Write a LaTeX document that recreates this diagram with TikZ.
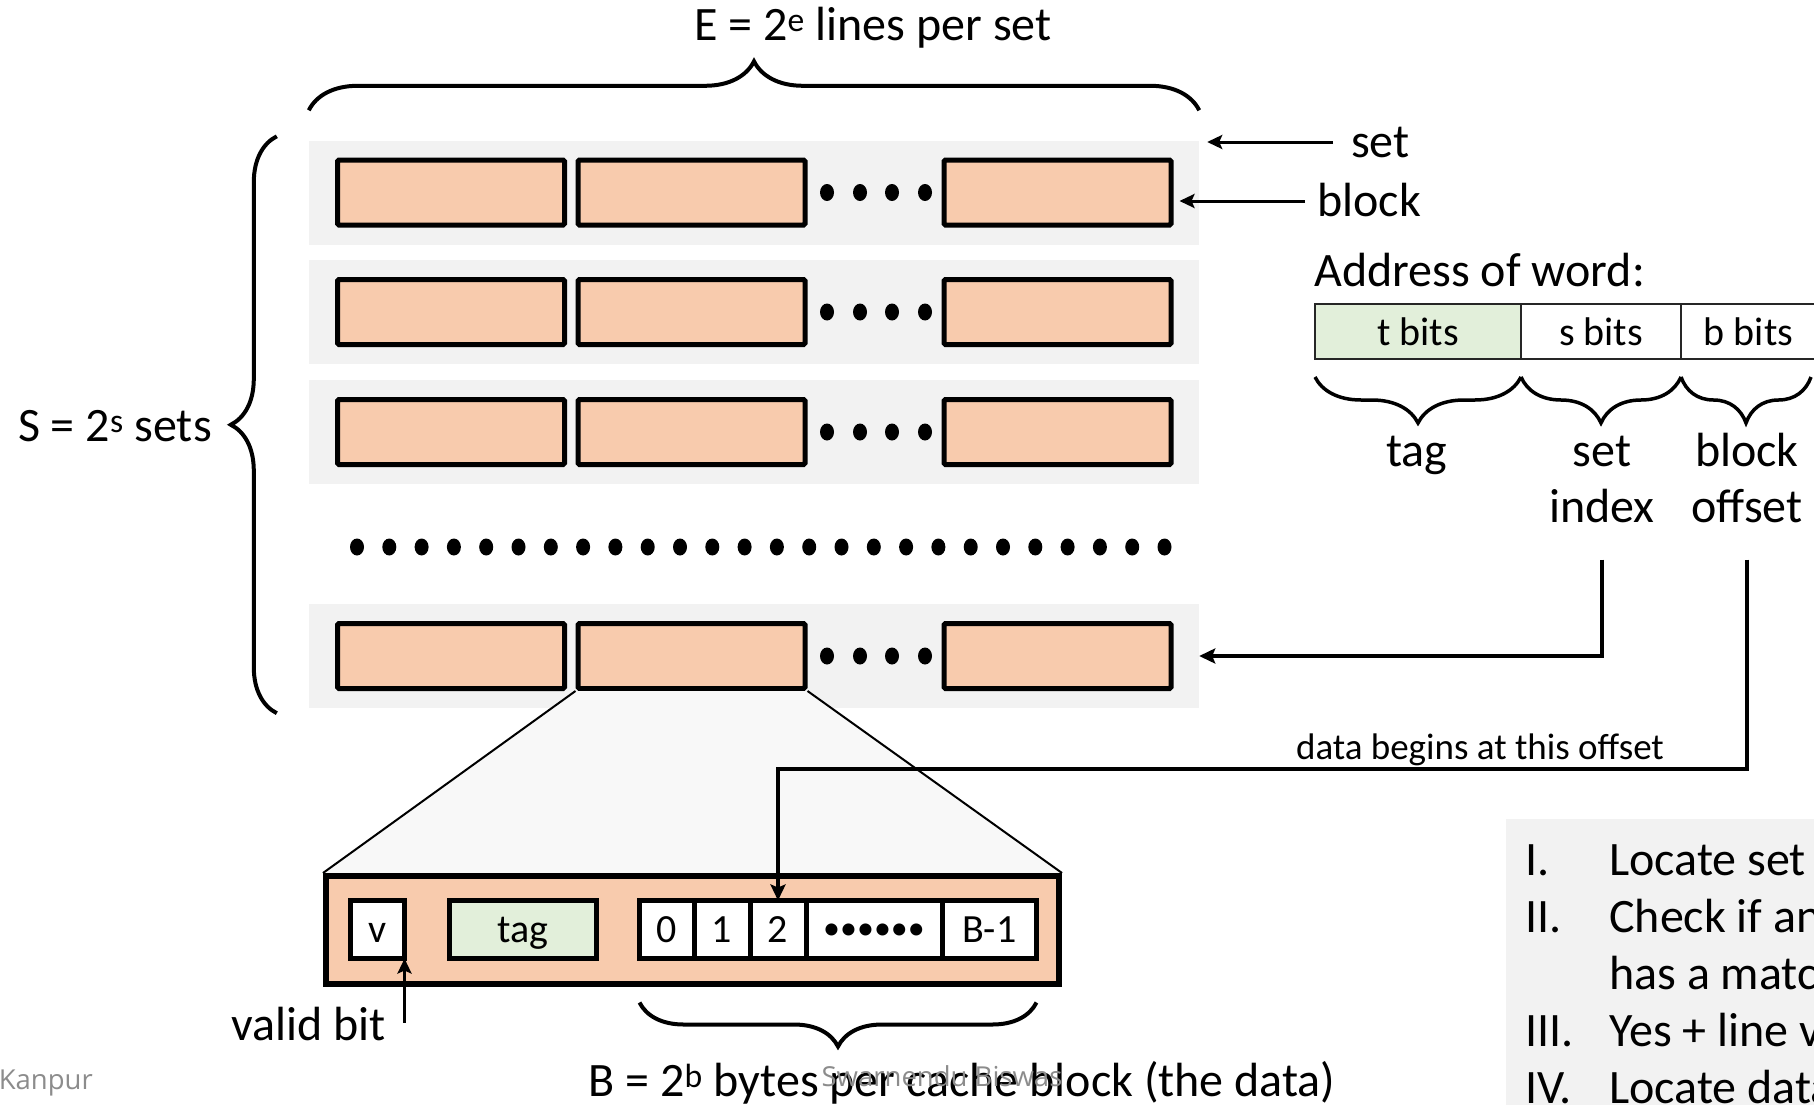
\documentclass[tikz,border=0pt]{standalone}
\usepackage{fontspec}
\setmainfont{Carlito}
\newfontfamily\footfont{Open Sans}
\usetikzlibrary{arrows.meta,positioning,decorations.pathreplacing}

\definecolor{peach}{HTML}{F8CBAD}
\definecolor{tagreen}{HTML}{E2EFDA}
\definecolor{setgray}{HTML}{F2F2F2}
\definecolor{zoomgray}{HTML}{F8F8F8}
\definecolor{footgray}{HTML}{8C8C8C}

\tikzset{
  lbl/.style={inner sep=0pt, text height=40pt, text depth=9pt},
  setbg/.style={fill=setgray, inner sep=0pt, minimum width=890pt, minimum height=104pt},
  cblock/.style={draw, line width=5pt, fill=peach, rounded corners=1.5pt, inner sep=0pt,
    minimum width=227pt, minimum height=65pt},
  cell/.style={draw, line width=5pt, fill=white, inner sep=0pt, outer sep=0pt,
    minimum height=58pt, text height=34pt, text depth=8pt, font=\fontsize{40pt}{48pt}\selectfont},
  field/.style={draw=black!85, line width=2pt, fill=white, inner sep=0pt, outer sep=0pt,
    minimum height=55pt, font=\fontsize{40pt}{48pt}\selectfont},
  arr/.style={line width=4pt, -{Stealth[length=16pt,width=15pt,inset=3pt]}},
  thinarr/.style={line width=3pt, -{Stealth[length=15pt,width=14pt,inset=3pt]}},
  bigbrace/.style={decorate, line width=4pt, decoration={brace, amplitude=#1}},
}

\begin{document}
\begin{tikzpicture}[x=1pt,y=-1pt,font=\fontsize{48pt}{58pt}\selectfont]
\clip (0,0) rectangle (1814,1105);

% the sets, each with E lines
\foreach \n/\y in {1/192.5, 2/312, 3/432, 4/656} {
  \node[setbg] (set\n) at (754,\y) {};
  \node[cblock] (blk\n-1) at (451,\y) {};
  \node[cblock] (blk\n-2) at (691.5,\y) {};
  \node[cblock] (blk\n-3) at (1057.5,\y) {};
  \foreach \d in {827,860,892,925}
    \fill (\d,\y) ellipse (7pt and 8.5pt);
}
\foreach \i in {0,...,25}
  \fill (357+32.3*\i,547) ellipse (7pt and 8.5pt);

% braces round the sets
\draw[bigbrace=49pt] ([yshift=30pt]set1.north west) -- ([yshift=30pt]set1.north east);
\node[lbl] (perset) at (873,25) {E = 2\textsuperscript{e} lines per set};
\draw[bigbrace=46pt] ([xshift=-32pt,yshift=-5pt]set4.south west) -- ([xshift=-32pt,yshift=4pt]set1.north west);
\node[lbl, anchor=east] (numsets) at (212,426) {S = 2\textsuperscript{s} sets};

\node[lbl, anchor=west] (settxt) at (1351,142) {set};
\node[lbl, anchor=west] (blktxt) at (1317,201) {block};
\draw[thinarr, shorten <=18pt, shorten >=8pt] (settxt.west) -- (settxt.west -| set1.east);
\draw[thinarr, shorten <=12pt, shorten >=6pt] (blktxt.west) -- (blktxt.west -| blk1-3.east);

% address split into fields
\node[lbl, anchor=west] (addr) at (1314,271) {Address of word:};
\node[field, fill=tagreen, minimum width=206pt] (tbits) at (1418,331.5) {t bits};
\node[field, minimum width=160pt, right=0pt of tbits] (sbits) {s bits};
\node[field, minimum width=135pt, right=0pt of sbits] (bbits) {b bits};
\draw[bigbrace=46pt, line width=3.5pt] ([yshift=-18pt]tbits.south east) -- ([yshift=-18pt]tbits.south west);
\draw[bigbrace=46pt, line width=3.5pt] ([yshift=-18pt]sbits.south east) -- ([yshift=-18pt]sbits.south west);
\draw[bigbrace=46pt, line width=3.5pt] ([xshift=-5pt,yshift=-18pt]bbits.south east) -- ([yshift=-18pt]bbits.south west);
\node[lbl] (taglbl) at (1417,451) {tag};
\node[lbl] (setlbl) at (1602,451) {set};
\node[lbl] (idxlbl) at (1602,507) {index};
\node[lbl] (blklbl) at (1747,451) {block};
\node[lbl] (offlbl) at (1747,507) {offset};

% one line, zoomed in
\fill[zoomgray] (blk4-2.south west) -- (blk4-2.south east) -- (1062,873) -- (323,873) -- cycle;
\draw[line width=2pt] (blk4-2.south west) -- (323,873) (blk4-2.south east) -- (1062,873);
\node[draw, line width=6pt, fill=peach, inner sep=0pt, minimum width=733pt, minimum height=108pt] (lineview) at (692.5,930) {};
\node[cell, minimum width=54pt] (vbit) at (377.5,929.5) {v};
\node[cell, fill=tagreen, minimum width=147pt] (tagcell) at (523,929.5) {tag};
\node[cell, minimum width=54.5pt] (byte0) at (666.75,929.5) {0};
\node[cell, minimum width=56pt, right=0pt of byte0] (byte1) {1};
\node[cell, minimum width=56pt, right=0pt of byte1] (byte2) {2};
\node[cell, minimum width=136pt, right=0pt of byte2, text height=20pt, text depth=0pt,
  font=\fontsize{34pt}{40pt}\selectfont] (bdots) {••••••};
\node[cell, minimum width=94.5pt, right=0pt of bdots] (blast) {B-1};

% lookups
\draw[arr, shorten <=28pt] (idxlbl.south) |- (set4.east);
\coordinate (turn) at (778,769);
\draw[arr, shorten <=28pt] (offlbl.south) |- (turn) -- (byte2.north);
\node[inner sep=0pt, font=\fontsize{37pt}{44pt}\selectfont] (datanote) at (1480,749.5) {data begins at this offset};

\node[lbl, anchor=east] (validtxt) at (386,1025) {valid bit};
\coordinate (vfoot) at ([yshift=-64pt]vbit.south east);
\draw[thinarr] (vfoot) -- (vbit.south east);

\draw[bigbrace=44pt] ([yshift=-44pt]blast.south east) -- ([yshift=-44pt]byte0.south west);
\node[lbl] (bsize) at (962,1081) {B = 2\textsuperscript{b} bytes per cache block (the data)};

% steps of a read
\fill[setgray] (1506,819) rectangle (1814,1105);
\foreach \r/\t [count=\k] in {I./Locate set, II./Check if any line in set, /has a matching tag,
    III./Yes + line valid: hit, IV./Locate data starting at offset} {
  \node[lbl, anchor=west] (itemno\k) at (1525,860+57*\k-57) {\r};
  \node[lbl, anchor=west] (item\k) at (1609,860+57*\k-57) {\t};
}

% footer
\node[inner sep=0pt, anchor=east, text=footgray, font=\footfont\fontsize{27.5pt}{33pt}\selectfont] (place) at (93,1083) {Kanpur};
\node[inner sep=0pt, text=footgray, font=\footfont\fontsize{27.5pt}{33pt}\selectfont] (author) at (942,1076) {Swarnendu Biswas};
\end{tikzpicture}
\end{document}
